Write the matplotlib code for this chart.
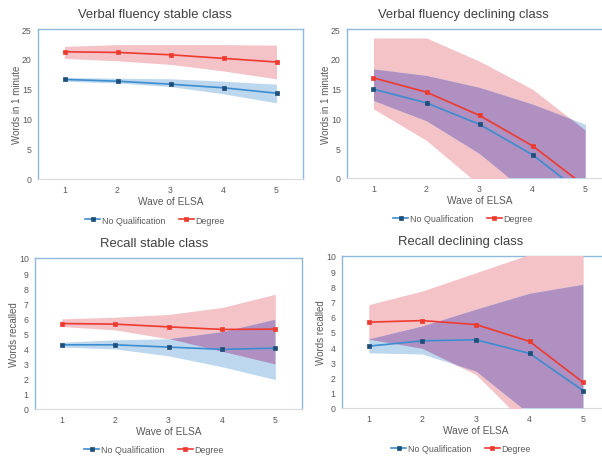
import numpy as np
import matplotlib.pyplot as plt
from matplotlib.ticker import MultipleLocator
from matplotlib.transforms import Bbox

plt.rcParams['font.family'] = ['Liberation Sans', 'DejaVu Sans']

# x positions (waves of ELSA)
waves = [1, 2, 3, 4, 5]

# Verbal fluency stable class
vf_stable_nq = [16.6, 16.3, 15.8, 15.2, 14.3]
vf_stable_nq_lo = [16.3, 16.0, 15.4, 14.2, 12.7]
vf_stable_nq_hi = [16.9, 16.8, 16.7, 16.3, 15.8]
vf_stable_deg = [21.2, 21.1, 20.7, 20.1, 19.5]
vf_stable_deg_lo = [20.1, 19.7, 19.1, 18.0, 16.7]
vf_stable_deg_hi = [22.1, 22.4, 22.4, 22.4, 22.3]

# Verbal fluency declining class
vf_decl_nq = [14.9, 12.6, 9.0, 3.9, -3.0]
vf_decl_nq_lo = [13.0, 9.6, 4.1, -3.2, -10.0]
vf_decl_nq_hi = [18.3, 17.2, 15.2, 12.4, 9.0]
vf_decl_deg = [16.8, 14.4, 10.5, 5.4, -1.4]
vf_decl_deg_lo = [11.6, 6.3, -1.2, -8.0, -14.0]
vf_decl_deg_hi = [23.5, 23.5, 19.6, 14.9, 8.0]

# Recall stable class
rc_stable_nq = [4.25, 4.25, 4.1, 3.95, 4.03]
rc_stable_nq_lo = [4.1, 3.98, 3.52, 2.8, 1.95]
rc_stable_nq_hi = [4.42, 4.58, 4.65, 5.12, 5.95]
rc_stable_deg = [5.66, 5.62, 5.44, 5.27, 5.29]
rc_stable_deg_lo = [5.46, 5.24, 4.65, 3.8, 2.96]
rc_stable_deg_hi = [5.97, 6.08, 6.26, 6.72, 7.6]

# Recall declining class
rc_decl_nq = [4.07, 4.42, 4.49, 3.59, 1.14]
rc_decl_nq_lo = [3.63, 3.55, 2.43, -0.4, -3.0]
rc_decl_nq_hi = [4.55, 5.4, 6.5, 7.55, 8.14]
rc_decl_deg = [5.65, 5.75, 5.49, 4.38, 1.68]
rc_decl_deg_lo = [4.5, 3.9, 2.2, -1.3, -5.0]
rc_decl_deg_hi = [6.8, 7.7, 8.9, 10.1, 11.0]

W, H = 602, 460
PINK = '#F4C3C8'
LBLUE = '#BDD7EE'
PURPLE = '#B08FC1'
RED = '#EE3A2F'
BLUE = '#3C8DD0'
NAVY = '#1F4E79'
FRAME = '#8FB8DE'
TXT = '#595959'

fig = plt.figure(figsize=(W / 100, H / 100), dpi=100)


def add_panel(box, title, title_cx, ylim, step, ylabel,
              nq, nq_lo, nq_hi, deg, deg_lo, deg_hi):
    left, top, right, bottom = box
    ax = fig.add_axes([left / W, 1 - bottom / H, (right - left) / W, (bottom - top) / H])
    ax.set_xlim(0.5, 5.5)
    ax.set_ylim(0, ylim)
    ax.xaxis.set_major_locator(MultipleLocator(1))
    ax.yaxis.set_major_locator(MultipleLocator(step))

    # confidence bands; overlap drawn purple by clipping blue band to pink band
    pink = ax.fill_between(waves, deg_lo, deg_hi, color=PINK, lw=0, zorder=3)
    ax.fill_between(waves, nq_lo, nq_hi, color=LBLUE, lw=0, zorder=3)
    overlap = ax.fill_between(waves, nq_lo, nq_hi, color=PURPLE, lw=0, zorder=3)
    clip = pink.get_paths()[0].clip_to_bbox(Bbox([[0.5, 0], [5.5, ylim]]))
    overlap.set_clip_path(clip, ax.transData)

    l1, = ax.plot(waves, nq, color=BLUE, lw=1.2, marker='s', ms=2.6,
                  mfc=NAVY, mec=NAVY, mew=0.5, zorder=5, label='No Qualification')
    l2, = ax.plot(waves, deg, color=RED, lw=1.2, marker='s', ms=2.6,
                  mfc=RED, mec=RED, mew=0.5, zorder=5, label='Degree')

    for s in ['left', 'top', 'right']:
        ax.spines[s].set_color(FRAME)
        ax.spines[s].set_linewidth(1.0)
    ax.spines['bottom'].set_color('#D9D9D9')
    ax.spines['bottom'].set_linewidth(0.8)
    ax.tick_params(length=0, labelsize=6.3, colors=TXT, pad=4.5)

    ax.set_xlabel('Wave of ELSA', fontsize=7.3, color=TXT, va='center')
    ax.xaxis.set_label_coords(0.5, -22 / (bottom - top))
    ax.set_ylabel(ylabel, fontsize=7, color=TXT, va='center')
    ax.yaxis.set_label_coords(-21 / (right - left), 0.5)

    fig.text(title_cx / W, 1 - (top - 15) / H, title, fontsize=9.4,
             color='#404040', ha='center', va='center')
    ax.legend(handles=[l1, l2], loc='center', ncol=2, frameon=False,
              bbox_to_anchor=(title_cx / W, 1 - (bottom + 41) / H),
              bbox_transform=fig.transFigure, fontsize=6.4,
              handlelength=1.7, handletextpad=0.2, columnspacing=1.5,
              labelcolor=TXT)
    return ax


add_panel((38, 30, 303, 180), 'Verbal fluency stable class', 155, 25, 5,
          'Words in 1 minute', vf_stable_nq, vf_stable_nq_lo, vf_stable_nq_hi,
          vf_stable_deg, vf_stable_deg_lo, vf_stable_deg_hi)
add_panel((347, 30, 612, 179), 'Verbal fluency declining class', 463, 25, 5,
          'Words in 1 minute', vf_decl_nq, vf_decl_nq_lo, vf_decl_nq_hi,
          vf_decl_deg, vf_decl_deg_lo, vf_decl_deg_hi)
add_panel((35, 259, 302, 410), 'Recall stable class', 154, 10, 1,
          'Words recalled', rc_stable_nq, rc_stable_nq_lo, rc_stable_nq_hi,
          rc_stable_deg, rc_stable_deg_lo, rc_stable_deg_hi)
add_panel((342, 257, 610, 409), 'Recall declining class', 461, 10, 1,
          'Words recalled', rc_decl_nq, rc_decl_nq_lo, rc_decl_nq_hi,
          rc_decl_deg, rc_decl_deg_lo, rc_decl_deg_hi)

fig.savefig('out.png', dpi=100)
